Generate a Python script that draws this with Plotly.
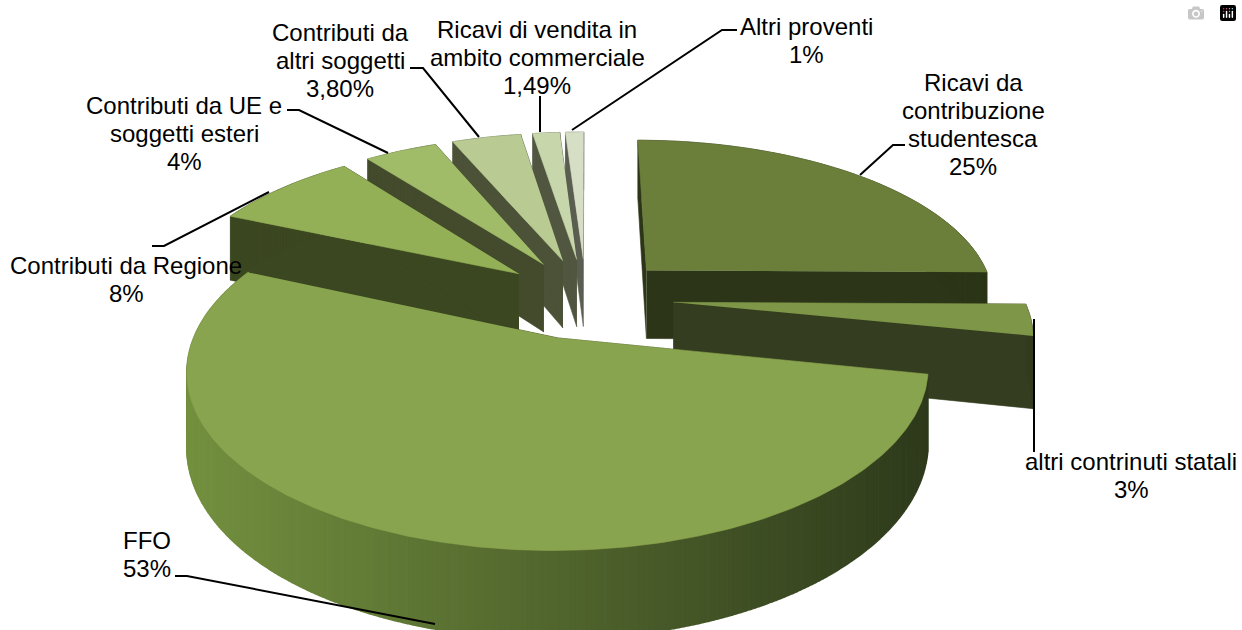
import math
import plotly.graph_objects as go

# valori della torta (ordine orario dalle ore 12)
categories = ['Ricavi da contribuzione studentesca', 'altri contrinuti statali', 'FFO',
              'Contributi da Regione', 'Contributi da UE e soggetti esteri',
              'Contributi da altri soggetti', 'Ricavi di vendita in ambito commerciale',
              'Altri proventi']
values = [25, 3, 53, 8, 4, 3.80, 1.49, 1]
top_colors = ['#6b7f3a', '#7d9647', '#89a44e', '#93b056', '#a1bc69', '#b9cb93', '#c8d6ac', '#d6dfc5']
wall_colors = ['#2c3517', '#343d1f', '#3b4720', '#3b4720', '#434b2c', '#4b5238', '#50563f', '#5a5e50']

label_lines = [
    ['Ricavi da', 'contribuzione', 'studentesca', '25%'],
    ['altri contrinuti statali', '3%'],
    ['FFO', '53%'],
    ['Contributi da Regione', '8%'],
    ['Contributi da UE e', 'soggetti esteri', '4%'],
    ['Contributi da', 'altri soggetti', '3,80%'],
    ['Ricavi di vendita in', 'ambito commerciale', '1,49%'],
    ['Altri proventi', '1%'],
]
label_x = [973, 1131, 147, 126, 184, 340, 537, 806]
label_y = [82, 461, 540, 265, 105, 32, 29, 26]
leaders = [
    [(860, 175), (893, 145), (905, 145)],
    [(1034, 319), (1034, 452)],
    [(435, 624), (187, 576), (175, 576)],
    [(269, 192), (164, 246), (152, 246)],
    [(388, 153), (299, 110), (287, 110)],
    [(479, 137), (423, 68), (410, 68)],
    [(540, 132), (540, 96)],
    [(572, 130), (722, 30), (737, 30)],
]

# geometria della torta 3D
CX, CY = 586, 298
R = 350
TILT = 0.46
PERSP = 0.17
EXPLODE = 0.25
DEPTH = 70
FONT = 'Liberation Sans'
LINE_H = 28
N = 260


def project(x, y, z=0):
    w = 1 + PERSP * y
    return CX + R * x / w, CY - R * TILT * y / w + DEPTH * z / w


def polygon(fig, pts, color, width=0.6):
    fig.add_trace(go.Scatter(x=[p[0] for p in pts], y=[p[1] for p in pts], mode='lines',
                             fill='toself', fillcolor=color,
                             line=dict(color=color, width=width), hoverinfo='skip', showlegend=False))


def mix(c1, c2, t):
    a = [int(c1[i:i + 2], 16) for i in (1, 3, 5)]
    b = [int(c2[i:i + 2], 16) for i in (1, 3, 5)]
    return 'rgb(%d,%d,%d)' % tuple(round(a[i] + (b[i] - a[i]) * t) for i in range(3))


fig = go.Figure()

total = sum(values)
starts = []
acc = 0
for v in values:
    starts.append(acc)
    acc += v

# dal fondo al davanti
draw_order = [7, 6, 5, 4, 3, 0, 1, 2]
for i in draw_order:
    a0 = starts[i] / total * 2 * math.pi
    a1 = (starts[i] + values[i]) / total * 2 * math.pi
    mid = (a0 + a1) / 2
    ox, oy = EXPLODE * math.sin(mid), EXPLODE * math.cos(mid)
    steps = max(3, int(N * (a1 - a0) / math.pi))
    angles = [a0 + (a1 - a0) * k / steps for k in range(steps + 1)]
    rim = [(ox + math.sin(a), oy + math.cos(a)) for a in angles]
    apex = (ox, oy)

    # pareti radiali
    polygon(fig, [project(*apex), project(*rim[0]), project(*rim[0], 1), project(*apex, 1)], wall_colors[i])
    polygon(fig, [project(*apex), project(*rim[-1]), project(*rim[-1], 1), project(*apex, 1)], wall_colors[i])

    # parete esterna, sfumata solo sulla fetta FFO
    is_ffo = categories[i] == 'FFO'
    for k in range(steps):
        p, q = rim[k], rim[k + 1]
        color = wall_colors[i]
        if is_ffo:
            xm = project(*p)[0]
            color = mix('#73903f', '#2e3a1b', min(1, max(0, (xm - 190) / 740)))
        polygon(fig, [project(*p), project(*q), project(*q, 1), project(*p, 1)], color, 1.5 if is_ffo else 0.6)

    # faccia superiore
    polygon(fig, [project(*apex)] + [project(*p) for p in rim], top_colors[i])

for pts in leaders:
    fig.add_trace(go.Scatter(x=[p[0] for p in pts], y=[p[1] for p in pts], mode='lines',
                             line=dict(color='black', width=2), hoverinfo='skip', showlegend=False))

for lines, lx, ly in zip(label_lines, label_x, label_y):
    for n, text in enumerate(lines):
        fig.add_annotation(x=lx, y=ly + n * LINE_H, text=text, showarrow=False,
                           xanchor='center', yanchor='middle',
                           font=dict(family=FONT, size=24, color='black'))

fig.update_xaxes(range=[0, 1242], visible=False, fixedrange=True)
fig.update_yaxes(range=[630, 0], visible=False, fixedrange=True)
fig.update_layout(width=1242, height=630, margin=dict(l=0, r=0, t=0, b=0),
                  plot_bgcolor='white', paper_bgcolor='white', showlegend=False)

fig.write_html("out.html", post_script="document.body.style.margin='0';document.body.style.overflow='hidden';")
